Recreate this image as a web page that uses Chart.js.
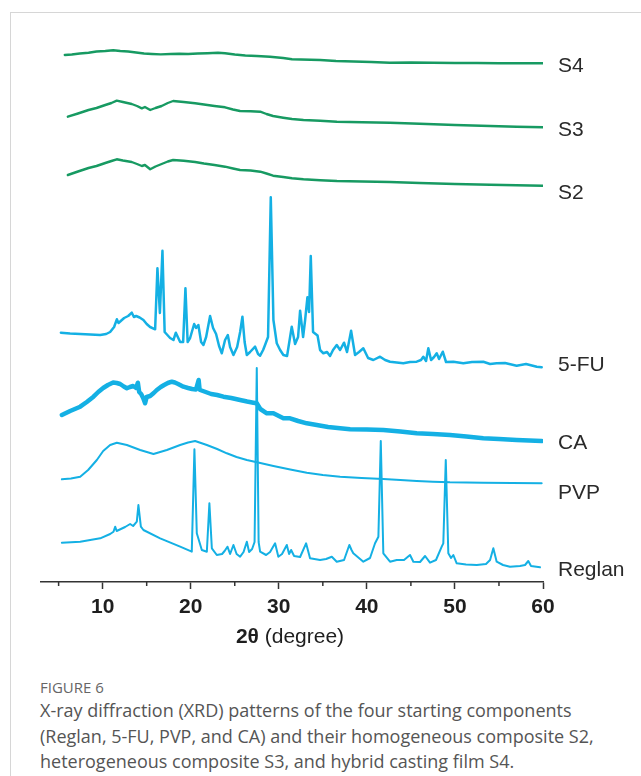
<!DOCTYPE html>
<html>
<head>
<meta charset="utf-8">
<script src="https://cdn.jsdelivr.net/npm/chart.js@4/dist/chart.umd.min.js"></script>
<style>
  html, body { margin: 0; padding: 0; background: #fff; }
  body { width: 641px; height: 776px; position: relative; overflow: hidden;
         font-family: "Liberation Sans", Arial, sans-serif; }
  #frame { position: absolute; left: 10px; top: 12px; width: 631px; height: 764px;
           border-left: 1px solid #d6d6d6; border-top: 1px solid #d6d6d6; }
  #plot { position: absolute; left: 0; top: 0; }
  .lbl { position: absolute; left: 558px; font-size: 21px; color: #2a2a2a;
         transform: translateY(-50%); line-height: 1; white-space: nowrap; }
  #xtitle { position: absolute; left: 290px; top: 636px; transform: translate(-50%, -50%);
            font-size: 21px; color: #1e1e1e; white-space: nowrap; }
  #cap { position: absolute; left: 40px; top: 678px; font-family: "Open Sans", "Noto Sans", sans-serif; color: #555; }
  #cap .fig { font-size: 15px; line-height: 19px; color: #666; }
  #cap .txt { font-size: 18px; line-height: 25.5px; margin-top: 1px; }
</style>
</head>
<body>
<div id="frame"></div>
<canvas id="plot" width="641" height="660"></canvas>

<div class="lbl" style="top:64px">S4</div>
<div class="lbl" style="top:128px">S3</div>
<div class="lbl" style="top:191px">S2</div>
<div class="lbl" style="top:363px">5-FU</div>
<div class="lbl" style="top:441px">CA</div>
<div class="lbl" style="top:491px">PVP</div>
<div class="lbl" style="top:568px">Reglan</div>

<div id="xtitle"><b>2θ</b> (degree)</div>

<div id="cap">
  <div class="fig">FIGURE 6</div>
  <div class="txt">X-ray diffraction (XRD) patterns of the four starting components<br>(Reglan, 5-FU, PVP, and CA) and their homogeneous composite S2,<br>heterogeneous composite S3, and hybrid casting film S4.</div>
</div>

<script>
// Stacked XRD patterns: [2θ (degree), intensity in a.u. including stacking offset]
const majorTicks = [10, 20, 30, 40, 50, 60];
const minorTicks = [5, 15, 25, 35, 45, 55];

const s4 = [[5.7,527],[6.5,527.5],[7.4,528.5],[8.4,529.3],[9.3,530.5],[10.3,531],[11.2,531.8],[12.0,531],
  [12.9,530.5],[13.8,529.5],[14.7,528.5],[15.6,528],[16.6,527.6],[17.7,528],[18.7,528.2],[19.7,528],
  [20.8,528.5],[21.9,528.8],[23.1,529.3],[23.9,528.7],[25.0,527.5],[26.2,526.5],[27.5,526],[29.0,525.3],
  [30.5,524],[31.5,522.8],[32.5,522.5],[34.7,522],[36.5,521],[38.5,520.5],[40.5,520],[42.6,519.3],
  [45,519.5],[47.5,519.2],[50,519],[52.5,519],[55,518.8],[57.5,518.7],[60,518.7]];

const s3 = [[6.05,465.3],[7.2,468.5],[8.4,472],[9.3,474],[10.3,477],[11.0,479],[11.6,481.3],[12.3,480],
  [13.3,478],[13.9,476],[14.45,473.7],[14.8,475],[15.4,472],[16.0,474],[16.7,476],[17.4,479],[18.0,481],
  [19.2,480],[20.5,478.7],[21.5,477.5],[22.7,476],[23.9,474.7],[24.8,472.5],[25.6,471],[26.8,470.8],
  [27.9,470.3],[28.6,468],[29.35,466],[30.5,464.3],[31.5,463],[32.8,462],[34.7,461.2],[36.6,460.3],
  [39.5,459.8],[42.6,459.3],[46,458.2],[50,457],[54,456],[57,455.3],[60,454.7]];

const s2 = [[6.05,407],[7.2,410.5],[8.4,414],[9.3,416],[10.3,419],[11.0,421],[11.6,422.7],[12.3,421.5],
  [13.3,420],[13.9,418],[14.45,416],[14.8,417],[15.4,412.7],[16.0,415.5],[16.7,418],[17.4,420.5],[18.0,422],
  [19.2,421.3],[20.5,420],[21.5,418.5],[22.7,417],[23.9,415.3],[24.8,413.5],[25.6,412],[26.8,411.5],
  [27.9,410.3],[28.6,408.5],[29.35,406.3],[30.5,405],[31.5,403.7],[32.8,402.7],[34.7,401.8],[36.6,401],
  [39.5,400.5],[42.6,400],[46,399],[50,398],[54,397.2],[57,396.8],[60,396.3]];

const fu5 = [[5.26,249.3],[6.3,248.5],[7.45,248],[8.6,247.5],[9.72,247],[10.4,248],[10.85,250],[11.3,255],
  [11.61,262.7],[11.8,259],[12.44,264],[12.9,266],[13.31,269.3],[13.55,265],[13.8,266],[14.2,264.5],
  [14.63,262],[15.0,258],[15.39,255],[15.96,252.7],[16.22,313.7],[16.5,269],[16.79,331.3],[17.04,250],
  [17.66,244],[18.04,242],[18.31,249.3],[18.8,240],[19.14,240],[19.4,293.7],[19.65,240],[19.93,244],
  [20.39,258],[20.61,254],[20.87,257],[21.18,240],[21.44,237],[21.75,245],[22.2,266],[22.54,254],
  [22.88,248],[23.22,236],[23.53,228.7],[23.9,242],[24.21,247],[24.47,235],[24.85,227],[25.27,235],
  [25.61,250],[25.87,265.3],[26.12,240],[26.37,227],[26.74,230],[27.31,235.3],[27.65,228],[27.88,226.3],
  [28.22,232],[28.44,237],[28.78,245],[29.09,384.7],[29.39,262],[29.77,238.7],[30.15,232],[30.52,227],
  [30.94,226],[31.47,255.3],[31.85,238],[32.19,245],[32.42,271.3],[32.76,245],[32.99,262],[33.25,284.7],
  [33.44,270],[33.63,326],[33.89,250],[34.4,246.5],[34.69,232],[35.06,228.7],[35.48,230],[35.82,226],
  [36.16,232],[36.58,237],[36.96,232],[37.41,239.3],[37.75,230],[38.21,251.3],[38.66,227],[39.11,230],
  [39.6,233.7],[40.14,224],[40.74,222],[41.5,225.3],[42.07,222],[42.63,220.3],[44.14,218.7],[44.9,220],
  [45.66,220.3],[46.15,222],[46.41,225.3],[46.72,221],[46.98,233.7],[47.29,222],[47.63,225],[47.93,228.7],
  [48.2,223],[48.62,230.3],[48.99,220],[49.82,220.3],[50.95,218.7],[51.94,220],[53.22,220.3],[53.99,218],
  [54.74,218.7],[55.69,219],[57.01,216.3],[58.07,218],[59.29,215.3],[59.85,214.7]];

const ca = [[5.37,167],[6.31,171],[7.45,175.3],[8.2,180],[8.96,185.3],[9.5,190],[10.06,194],[10.6,197],
  [11.19,199.5],[11.6,199],[11.99,198],[12.4,195.5],[12.75,193.7],[13.1,195],[13.46,196],[13.8,194],
  [14.0,199.3],[14.15,190],[14.37,188],[14.6,184],[14.82,178.7],[15.0,185],[15.39,186],[15.8,189],
  [16.15,192],[16.6,195],[16.98,197],[17.4,199],[17.85,200.3],[18.2,199.5],[18.57,198],[19.17,195.3],
  [19.7,194],[20.16,193],[20.6,192.5],[20.9,202],[21.0,193],[21.07,192],[21.7,190],[22.32,188],[23.0,187],
  [23.71,185.3],[24.6,184],[25.61,182],[26.4,180.5],[27.12,179.3],[27.5,178.7],[27.9,173],[28.64,168.7],
  [29.39,168.7],[30.52,163.7],[31.28,163.7],[32.2,161],[33.18,158.7],[34.31,157],[35.6,155],[36.96,153.7],
  [38.1,152.7],[40,152.5],[41.87,152],[43.8,150.5],[45.66,148.7],[47.5,148],[49.44,147],[51.3,145.5],
  [53.22,143.7],[55,143],[57.01,142],[59.85,141]];

const pvp = [[5.37,102.7],[6.4,103.5],[7.45,105.3],[8.35,112],[9.34,122],[10.06,131],[10.85,137],
  [11.61,139.3],[12.75,137],[14.26,132],[15.77,128],[17.29,132],[18.8,137],[19.7,139.5],[20.5,141],
  [21.83,137],[23.0,133],[24.1,128.7],[25.2,125],[26.37,122],[27.9,119],[29.39,116],[31.3,112.5],
  [33.18,109.3],[35,107],[36.96,105.3],[39.4,104],[41.87,103],[43.8,102],[45.66,101],[47.5,100.3],
  [49.44,99.7],[51.3,99.5],[53.22,99.3],[56.5,99],[59.85,98.7]];

const reglan = [[5.37,39.3],[7.45,40.3],[9.72,43.7],[10.85,48],[11.23,50.3],[11.42,55.3],[11.59,51],
  [12.55,55],[13.12,58],[13.46,56],[13.88,60.3],[14.06,77],[14.34,55.3],[14.63,52],[16.53,43.7],
  [18.8,35.3],[20.12,30.3],[20.42,132.7],[20.69,48.7],[21.26,32],[21.83,30.3],[22.12,78.7],[22.4,33.7],
  [22.96,27],[23.56,28],[23.85,31],[24.17,35.3],[24.47,28],[24.85,37],[25.21,28],[25.61,25.3],[26.0,30],
  [26.37,40.3],[26.63,30],[26.97,33],[27.25,40],[27.5,214],[27.71,40],[27.88,30.3],[28.56,27],[29.01,30],
  [29.58,38.7],[29.95,25.3],[30.37,28],[30.91,37],[31.17,28],[31.4,32],[31.74,26],[32.42,25],[33.1,38.7],
  [33.55,23.7],[34.69,22],[35.37,23],[36.02,25.3],[36.58,20.3],[37.41,22],[38.01,37],[38.26,32],
  [38.46,28.7],[39.6,20.3],[40.36,24],[40.93,38.7],[41.31,45.3],[41.58,141],[41.87,28.7],[42.63,20.3],
  [43.39,22],[44.22,22],[44.9,27],[45.28,20.3],[46.04,20],[46.61,26],[47.17,19.3],[47.85,22],[48.5,35.3],
  [48.68,38.7],[48.96,122],[49.25,28.7],[49.56,24],[49.82,27],[50.2,18.7],[51.26,17.5],[52.48,17],
  [53.53,18],[53.99,22],[54.36,33.7],[54.74,20.3],[55.46,17],[56.25,15.3],[57.39,16],[57.96,17],
  [58.33,21],[58.64,16],[59.66,14.7]];

const GREEN = '#179a62';
const CYAN = '#14b0e4';

const toXY = arr => arr.map(([x, y]) => ({ x, y }));
const series = (data, color, width) => ({
  data: toXY(data), borderColor: color, borderWidth: width, pointRadius: 0,
  tension: 0, fill: false, borderJoinStyle: 'round', borderCapStyle: 'round'
});

// short minor ticks between the labelled ones
const minorTickPlugin = {
  id: 'minorTickMarks',
  afterDraw(chart) {
    const sx = chart.scales.x, ctx = chart.ctx, y0 = chart.chartArea.bottom;
    ctx.save();
    ctx.strokeStyle = '#333';
    ctx.lineWidth = 1.5;
    minorTicks.forEach(v => {
      const px = sx.getPixelForValue(v);
      ctx.beginPath();
      ctx.moveTo(px, y0);
      ctx.lineTo(px, y0 + 4);
      ctx.stroke();
    });
    ctx.restore();
  }
};

new Chart(document.getElementById('plot'), {
  type: 'line',
  data: {
    datasets: [
      series(reglan, CYAN, 2),
      series(pvp, CYAN, 2),
      series(ca, CYAN, 4.5),
      series(fu5, CYAN, 2.5),
      series(s2, GREEN, 2.4),
      series(s3, GREEN, 2.4),
      series(s4, GREEN, 2.4)
    ]
  },
  options: {
    responsive: false,
    animation: false,
    devicePixelRatio: 1,
    layout: { padding: { left: 41, right: 98, top: 0, bottom: 0 } },
    plugins: { legend: { display: false }, tooltip: { enabled: false } },
    scales: {
      x: {
        type: 'linear', min: 3, max: 60,
        afterBuildTicks: s => { s.ticks = majorTicks.map(v => ({ value: v })); },
        afterFit: s => { s.height = 78; },
        ticks: {
          autoSkip: false, maxRotation: 0, padding: 6, color: '#1e1e1e',
          font: { family: '"Liberation Sans", Arial, sans-serif', size: 21, weight: 'bold' }
        },
        grid: { drawOnChartArea: false, drawTicks: true, tickLength: 7, tickColor: '#333', tickWidth: 1.5 },
        border: { display: true, color: '#333', width: 1.5 }
      },
      y: { display: false, min: 0, max: 582 }
    }
  },
  plugins: [minorTickPlugin]
});
</script>
</body>
</html>
